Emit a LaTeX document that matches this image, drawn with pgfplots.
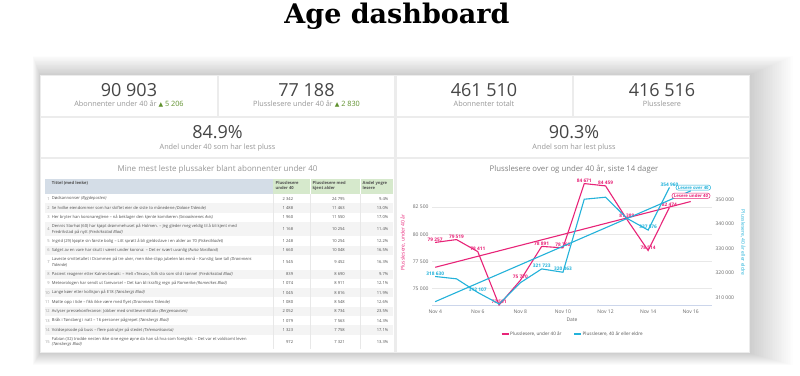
\documentclass[border=0pt]{standalone}
\usepackage{fontspec}
\setmainfont{Open Sans}
\newfontfamily\titlefont{DejaVu Serif}
\newfontfamily\symfont{DejaVu Sans}
\usepackage{pgfplots}
\pgfplotsset{compat=1.18}
\definecolor{pinkc}{RGB}{232,36,120}
\definecolor{cyanc}{RGB}{35,178,218}
\definecolor{gapc}{RGB}{236,236,236}
\definecolor{kpi}{RGB}{70,70,70}
\definecolor{subc}{RGB}{150,150,150}
\definecolor{upc}{RGB}{95,145,45}
\definecolor{hdrblue}{RGB}{212,221,231}
\definecolor{hdrgreen}{RGB}{214,233,204}
\definecolor{rowgrey}{RGB}{244,244,244}
\definecolor{tcol}{RGB}{80,80,80}
\definecolor{gridc}{RGB}{232,232,232}
\definecolor{axisc}{RGB}{204,214,235}
\definecolor{tickc}{RGB}{102,102,102}
\newcommand{\fs}[2]{\fontsize{#1}{#2}\selectfont}
% row macro: top, bottom, index, title, n1, n2, pct, fill
\newcommand{\trow}[8]{%
  \fill[#8] (45,#1) rectangle (393.3,#2);
  \node[anchor=east,font=\fs{4}{5},text=subc,inner sep=0] at (49.8,{(#1+#2)/2}) {#3};
  \node[anchor=west,align=left,font=\fs{4.1}{5.6},text=tcol,inner sep=0] at (51.7,{(#1+#2)/2}) {#4};
  \node[anchor=east,font=\fs{4.1}{5},text=tcol,inner sep=0] at (293.3,{(#1+#2)/2}) {#5};
  \node[anchor=east,font=\fs{4.1}{5},text=tcol,inner sep=0] at (345,{(#1+#2)/2}) {#6};
  \node[anchor=east,font=\fs{4.1}{5},text=tcol,inner sep=0] at (388.5,{(#1+#2)/2}) {#7};
}
\begin{document}
\begin{tikzpicture}[x=1pt,y=-1pt]
\useasboundingbox (0,0) rectangle (800,375);
\fill[white] (0,0) rectangle (800,375);
% title
\node[font=\titlefont\bfseries\fs{27}{32},anchor=base,inner sep=0] at (397,23) {Age dashboard};
% shadow
\foreach \i in {1,...,24} {
  \fill[black,opacity=0.0065] ({40-\i*0.3},{75-\i*0.8}) rectangle ({750+\i*1.8},{353+\i*0.5});
}
% card
\fill[gapc] (40,75) rectangle (750,353);
\fill[white] (41,76) rectangle (216.5,115.5);
\fill[white] (218.5,76) rectangle (394,115.5);
\fill[white] (396.5,76) rectangle (571.5,115.5);
\fill[white] (573.5,76) rectangle (749,115.5);
\fill[white] (41,117.5) rectangle (394,157);
\fill[white] (396.5,117.5) rectangle (749,157);
\fill[white] (41,159) rectangle (394,352);
\fill[white] (396.5,159) rectangle (749,352);
% KPIs
\node[anchor=base,text=kpi,font=\fs{18}{20},inner sep=0] at (129,96) {90 903};
\node[anchor=base,font=\fs{7.3}{8},inner sep=0] at (129,106.5) {\textcolor{subc}{Abonnenter under 40 år} \textcolor{upc}{{\symfont\fs{6}{7}▲} 5 206}};
\node[anchor=base,text=kpi,font=\fs{18}{20},inner sep=0] at (306.5,96) {77 188};
\node[anchor=base,font=\fs{7.3}{8},inner sep=0] at (306.5,106.5) {\textcolor{subc}{Plusslesere under 40 år} \textcolor{upc}{{\symfont\fs{6}{7}▲} 2 830}};
\node[anchor=base,text=kpi,font=\fs{18}{20},inner sep=0] at (484,96) {461 510};
\node[anchor=base,text=subc,font=\fs{7.3}{8},inner sep=0] at (484,106.5) {Abonnenter totalt};
\node[anchor=base,text=kpi,font=\fs{18}{20},inner sep=0] at (662,96) {416 516};
\node[anchor=base,text=subc,font=\fs{7.3}{8},inner sep=0] at (662,106.5) {Plusslesere};
\node[anchor=base,text=kpi,font=\fs{18}{20},inner sep=0] at (217.5,138.3) {84.9\%};
\node[anchor=base,text=subc,font=\fs{7.3}{8},inner sep=0] at (217.5,149.3) {Andel under 40 som har lest pluss};
\node[anchor=base,text=kpi,font=\fs{18}{20},inner sep=0] at (574,138.3) {90.3\%};
\node[anchor=base,text=subc,font=\fs{7.3}{8},inner sep=0] at (574,149.3) {Andel som har lest pluss};
% table
\node[anchor=base,text=subc,font=\fs{8}{9},inner sep=0] at (217.5,171) {Mine mest leste plussaker blant abonnenter under 40};
\fill[hdrblue] (45,179) rectangle (273.3,194);
\fill[hdrgreen] (273.3,179) rectangle (393.3,194);
\draw[white,line width=0.6pt] (310,179) -- (310,194) (360,179) -- (360,194);
\node[anchor=north west,font=\fs{4.1}{5.6}\bfseries,text=tcol,inner sep=0] at (51.7,181) {Tittel (med lenke)};
\node[anchor=north west,align=left,font=\fs{4.1}{5.6}\bfseries,text=tcol,inner sep=0] at (275.5,181) {Plusslesere\\under 40};
\node[anchor=north west,align=left,font=\fs{4.1}{5.6}\bfseries,text=tcol,inner sep=0] at (312.5,181) {Plusslesere med\\kjent alder};
\node[anchor=north west,align=left,font=\fs{4.1}{5.6}\bfseries,text=tcol,inner sep=0] at (362.5,181) {Andel yngre\\lesere};
\trow{194}{203.3}{1}{Dødsannonser \textit{(Bygdeposten)}}{2 342}{24 795}{9.4\%}{white}
\trow{203.3}{212.6}{2}{Se hvilke eiendommer som har skiftet eier de siste to månedene \textit{(Dalane Tidende)}}{1 488}{11 463}{13.0\%}{rowgrey}
\trow{212.6}{221.9}{3}{Her bryter han koronareglene – nå beklager den kjente komikeren \textit{(Smaalenenes Avis)}}{1 960}{11 550}{17.0\%}{white}
\trow{221.9}{236.4}{4}{Dennis Storhøi (60) har kjøpt drømmehuset på Holmen. – Jeg gleder meg veldig til å bli kjent med\\Fredrikstad på nytt \textit{(Fredriksstad Blad)}}{1 168}{10 254}{11.4\%}{rowgrey}
\trow{236.4}{245.7}{5}{Ingrid (29) kjøpte sin første bolig – Litt sprøtt å bli gjeldsslave i en alder av 70 \textit{(Fiskeribladet)}}{1 248}{10 254}{12.2\%}{white}
\trow{245.7}{255}{6}{Salget av en vare har skutt i været under korona: – Det er svært uvanlig \textit{(Avisa Nordland)}}{1 660}{10 048}{16.5\%}{rowgrey}
\trow{255}{269.5}{7}{Laveste smittetallet i Drammen på tre uker, men ikke slipp jubelen løs ennå – Kunstig lave tall \textit{(Drammens}\\\textit{Tidende)}}{1 545}{9 452}{16.3\%}{white}
\trow{269.5}{278.8}{8}{Pasient reagerer etter Kalnes-besøk: – Helt «Texas», folk sto som sild i tønne! \textit{(Fredriksstad Blad)}}{839}{8 690}{9.7\%}{rowgrey}
\trow{278.8}{288.1}{9}{Meteorologen har sendt ut farevarsel – Det kan bli kraftig regn på Romerike \textit{(Romerikes Blad)}}{1 074}{8 911}{12.1\%}{white}
\trow{288.1}{297.4}{10}{Lange køer etter kollisjon på E18 \textit{(Tønsbergs Blad)}}{1 045}{8 816}{11.9\%}{rowgrey}
\trow{297.4}{306.7}{11}{Møtte opp i tide – fikk ikke være med flyet \textit{(Drammens Tidende)}}{1 080}{8 548}{12.6\%}{white}
\trow{306.7}{316}{12}{Avlyser pressekonferanse: Jobber med smitteverntiltak» \textit{(Bergensavisen)}}{2 052}{8 734}{23.5\%}{rowgrey}
\trow{316}{325.3}{13}{Bråk i Tønsberg i natt – 16 personer pågrepet \textit{(Tønsbergs Blad)}}{1 079}{7 563}{14.3\%}{white}
\trow{325.3}{334.6}{14}{Voldsepisode på buss – flere patruljer på stedet \textit{(Telemarksavisa)}}{1 323}{7 758}{17.1\%}{rowgrey}
\trow{334.6}{349.1}{15}{Fabian (32) trodde nesten ikke sine egne øyne da han så hva som foregikk: – Det var et voldsomt leven\\\textit{(Tønsbergs Blad)}}{972}{7 321}{13.3\%}{white}
\draw[gridc,line width=0.4pt] (273.3,194) -- (273.3,349.1) (310,194) -- (310,349.1) (360,194) -- (360,349.1);
% chart title
\node[anchor=base,text=subc!85!black,font=\fs{7.8}{9},inner sep=0] at (574,171) {Plusslesere over og under 40 år, siste 14 dager};
% left axis (under 40)
\begin{axis}[
  at={(432pt,-305pt)}, anchor=south west,
  scale only axis, width=280pt, height=125pt,
  xmin=3.85, xmax=17, ymin=73500, ymax=85000,
  clip=false, scaled y ticks=false, scaled x ticks=false,
  axis x line*=bottom, axis y line*=left,
  x axis line style={axisc,line width=0.6pt},
  y axis line style={draw=none},
  xtick={4,6,8,10,12,14,16},
  xticklabels={Nov 4,Nov 6,Nov 8,Nov 10,Nov 12,Nov 14,Nov 16},
  ytick={75000,77500,80000,82500},
  yticklabels={75 000,77 500,80 000,82 500},
  ymajorgrids, major grid style={gridc,line width=0.5pt},
  major tick length=0pt,
  tick label style={font=\fs{5}{6}, text=tickc},
  xticklabel style={yshift=-1pt},
  xlabel={Date},
  every axis x label/.style={at={(axis description cs:0.5,-0.12)},anchor=center,font=\fs{5}{6},text=tickc},
  ylabel={Plusslesere, under 40 år},
  every axis y label/.style={at={(axis description cs:-0.1036,0.5)},rotate=90,anchor=center,font=\fs{5}{6},text=pinkc},
]
\addplot[pinkc, line width=1.1pt] coordinates {(4,76970) (16,83020)};
\addplot[pinkc, line width=1.1pt] coordinates {
 (4,79257) (5,79519) (6,78411) (7,73501) (8,75770) (9,78891) (10,78760)
 (11,84671) (12,84459) (13,81389) (14,78514) (15,82474)};
\addplot[draw=none, mark=none, point meta=explicit symbolic,
  nodes near coords,
  nodes near coords style={font=\fs{4.8}{5}\bfseries, text=pinkc, anchor=south, inner sep=0.6pt, yshift=0.5pt}]
 coordinates {
 (4,79257) [79 257] (5,79519) [79 519] (6,78411) [78 411] (7,73501) [73 501]
 (8,75770) [75 770] (9,78891) [78 891] (10,78760) [78 760] (11,84671) [84 671]
 (12,84459) [84 459] (13,81389) [81 389] (14,78514) [78 514] (15,82474) [82 474]};
\end{axis}
% right axis (40+)
\begin{axis}[
  at={(432pt,-305pt)}, anchor=south west,
  scale only axis, width=280pt, height=125pt,
  xmin=3.85, xmax=17, ymin=307000, ymax=358000,
  clip=false, scaled y ticks=false, scaled x ticks=false,
  axis x line=none, axis y line*=right,
  y axis line style={draw=none},
  ytick={310000,320000,330000,340000,350000},
  yticklabels={310 000,320 000,330 000,340 000,350 000},
  major tick length=0pt,
  tick label style={font=\fs{5}{6}, text=tickc},
  ylabel={Plusslesere, 40 år eller eldre},
  every axis y label/.style={at={(axis description cs:1.111,0.5)},rotate=-90,anchor=center,font=\fs{5}{6},text=cyanc},
]
\addplot[cyanc, line width=1.1pt] coordinates {(4,308370) (16,353560)};
\addplot[cyanc, line width=1.1pt] coordinates {
 (4,318630) (5,317680) (6,312107) (7,307430) (8,316100) (9,321723) (10,320363)
 (11,350160) (12,350980) (13,342400) (14,337576) (15,354960)};
\addplot[draw=none, mark=none, point meta=explicit symbolic,
  nodes near coords,
  nodes near coords style={font=\fs{4.8}{5}\bfseries, text=cyanc, anchor=south, inner sep=0.6pt, yshift=0.5pt}]
 coordinates {
 (4,318630) [318 630] (6,312107) [312 107] (9,321723) [321 723]
 (10,320363) [320 363] (14,337576) [337 576] (15,354960) [354 960]};
\end{axis}
% annotations
\node[draw=cyanc,fill=white,rounded corners=2.5pt,line width=0.5pt,font=\fs{4.3}{5}\bfseries,text=cyanc,inner xsep=2pt,inner ysep=1pt] at (693.3,187.6) {Lesere over 40};
\node[draw=pinkc,fill=white,rounded corners=2.5pt,line width=0.5pt,font=\fs{4.3}{5}\bfseries,text=pinkc,inner xsep=2pt,inner ysep=1pt] at (691,195.8) {Lesere under 40};
% legend
\draw[pinkc,line width=1.2pt] (501.7,334) -- (508.5,334);
\node[anchor=west,font=\fs{4.6}{5},text=tcol,inner sep=0] at (510,334) {Plusslesere, under 40 år};
\draw[cyanc,line width=1.2pt] (574,334) -- (580.8,334);
\node[anchor=west,font=\fs{4.6}{5},text=tcol,inner sep=0] at (582.5,334) {Plusslesere, 40 år eller eldre};
\end{tikzpicture}
\end{document}
